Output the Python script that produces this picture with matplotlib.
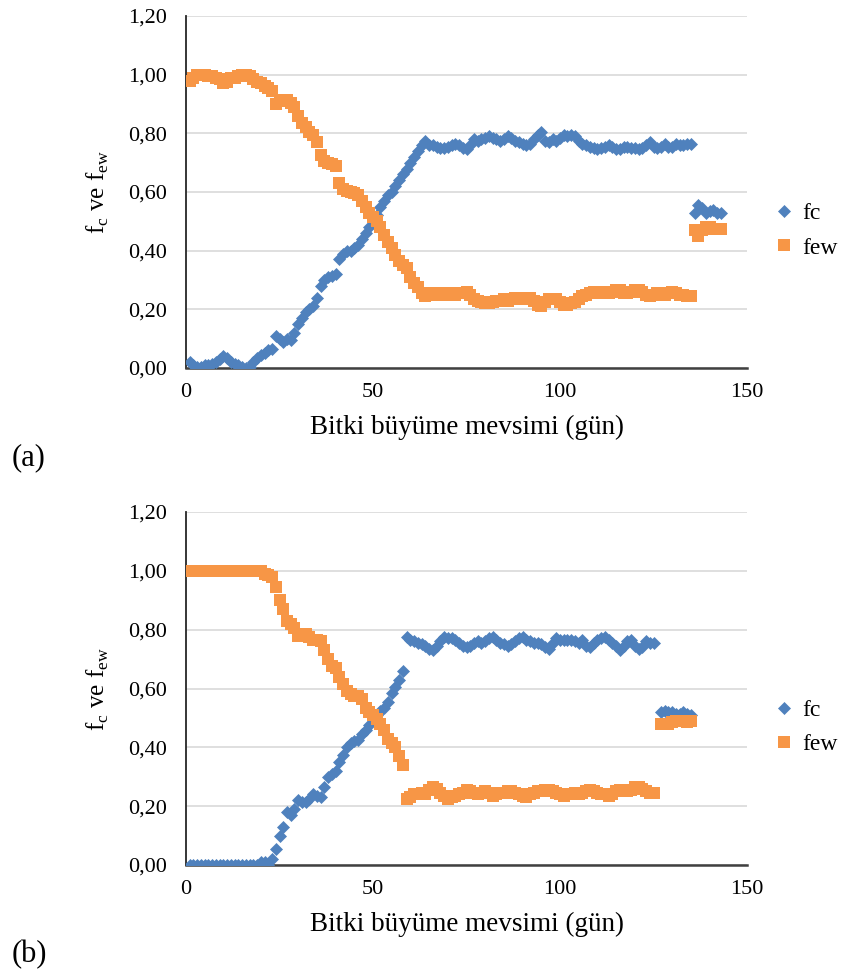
import matplotlib
matplotlib.use('Agg')
import matplotlib.pyplot as plt
from matplotlib.ticker import FuncFormatter

plt.rcParams['font.family'] = ['Liberation Serif', 'DejaVu Serif']
plt.rcParams['mathtext.fontset'] = 'custom'
plt.rcParams['mathtext.rm'] = 'Liberation Serif'

# (a) verileri
gun_a = list(range(1, 136))
fc_a = [0.02, 0.01, 0.005, 0.005, 0.01, 0.01, 0.015, 0.02, 0.03, 0.04,
        0.035, 0.02, 0.015, 0.01, 0.005, 0.0, 0.005, 0.02, 0.035, 0.045,
        0.05, 0.06, 0.065, 0.11, 0.10, 0.09, 0.10, 0.095, 0.12, 0.15,
        0.17, 0.19, 0.20, 0.21, 0.24, 0.28, 0.30, 0.31, 0.315, 0.32,
        0.37, 0.39, 0.40, 0.40, 0.41, 0.42, 0.44, 0.46, 0.48, 0.50,
        0.52, 0.55, 0.57, 0.59, 0.60, 0.62, 0.64, 0.66, 0.68, 0.70,
        0.72, 0.74, 0.76, 0.775, 0.76, 0.76, 0.755, 0.75, 0.75, 0.755,
        0.76, 0.765, 0.76, 0.75, 0.745, 0.76, 0.78, 0.775, 0.78, 0.785,
        0.79, 0.785, 0.78, 0.775, 0.78, 0.79, 0.785, 0.775, 0.77, 0.765,
        0.76, 0.765, 0.78, 0.795, 0.805, 0.775, 0.77, 0.78, 0.775, 0.785,
        0.795, 0.79, 0.795, 0.79, 0.775, 0.765, 0.76, 0.755, 0.75, 0.745,
        0.75, 0.755, 0.76, 0.755, 0.745, 0.745, 0.755, 0.755, 0.75, 0.75,
        0.745, 0.75, 0.76, 0.77, 0.755, 0.75, 0.755, 0.765, 0.755, 0.755,
        0.765, 0.76, 0.76, 0.765, 0.765]
few_a = [0.98, 0.99, 1.0, 1.0, 1.0, 0.995, 0.995, 0.99, 0.985, 0.97,
         0.975, 0.99, 0.99, 0.995, 1.0, 1.0, 0.995, 0.985, 0.975, 0.97,
         0.96, 0.955, 0.945, 0.90, 0.91, 0.915, 0.915, 0.905, 0.89, 0.86,
         0.835, 0.82, 0.805, 0.795, 0.77, 0.725, 0.705, 0.70, 0.695, 0.69,
         0.63, 0.61, 0.605, 0.60, 0.595, 0.59, 0.57, 0.55, 0.53, 0.515,
         0.50, 0.48, 0.455, 0.43, 0.41, 0.385, 0.365, 0.35, 0.34, 0.31,
         0.29, 0.275, 0.255, 0.245, 0.25, 0.255, 0.255, 0.25, 0.255, 0.255,
         0.25, 0.25, 0.255, 0.255, 0.26, 0.25, 0.235, 0.23, 0.225, 0.22,
         0.22, 0.225, 0.23, 0.23, 0.235, 0.23, 0.235, 0.24, 0.24, 0.235,
         0.24, 0.24, 0.23, 0.215, 0.21, 0.225, 0.235, 0.235, 0.235, 0.225,
         0.215, 0.215, 0.22, 0.225, 0.235, 0.245, 0.25, 0.255, 0.26, 0.255,
         0.255, 0.26, 0.255, 0.26, 0.265, 0.265, 0.255, 0.255, 0.26, 0.265,
         0.265, 0.26, 0.25, 0.245, 0.25, 0.255, 0.255, 0.25, 0.255, 0.26,
         0.255, 0.25, 0.25, 0.245, 0.245]
gun_a2 = list(range(136, 144))
fc_a2 = [0.53, 0.555, 0.545, 0.53, 0.535, 0.54, 0.53, 0.53]
few_a2 = [0.47, 0.45, 0.47, 0.48, 0.48, 0.475, 0.475, 0.475]

# (b) verileri
gun_b = list(range(1, 126))
fc_b = [0.0] * 19 + [
        0.01, 0.01, 0.0, 0.02, 0.055, 0.10, 0.13, 0.18, 0.17, 0.19,
        0.22, 0.215, 0.215, 0.225, 0.24, 0.235, 0.23, 0.265, 0.30, 0.31,
        0.32, 0.35, 0.375, 0.40, 0.415, 0.42, 0.425, 0.445, 0.46, 0.475,
        0.495, 0.51, 0.525, 0.535, 0.555, 0.585, 0.605, 0.63, 0.66,
        0.775, 0.765, 0.76, 0.755, 0.75, 0.745, 0.735, 0.73, 0.745, 0.76,
        0.775, 0.77, 0.77, 0.765, 0.755, 0.745, 0.74, 0.745, 0.755, 0.76,
        0.755, 0.76, 0.77, 0.775, 0.765, 0.755, 0.75, 0.745, 0.75, 0.76,
        0.77, 0.775, 0.765, 0.76, 0.755, 0.755, 0.75, 0.74, 0.735, 0.755,
        0.77, 0.765, 0.765, 0.765, 0.765, 0.76, 0.755, 0.765, 0.745, 0.74,
        0.755, 0.765, 0.77, 0.775, 0.765, 0.755, 0.745, 0.73, 0.745, 0.76,
        0.765, 0.745, 0.735, 0.74, 0.76, 0.755, 0.755]
few_b = [1.0] * 20 + [
         0.99, 0.985, 0.98, 0.945, 0.90, 0.87, 0.83, 0.82, 0.805, 0.78,
         0.785, 0.785, 0.775, 0.765, 0.765, 0.76, 0.73, 0.70, 0.675, 0.67,
         0.64, 0.615, 0.59, 0.58, 0.575, 0.575, 0.565, 0.535, 0.52, 0.51,
         0.495, 0.48, 0.46, 0.43, 0.415, 0.40, 0.37, 0.34,
         0.225, 0.23, 0.24, 0.24, 0.245, 0.24, 0.255, 0.265, 0.26, 0.245,
         0.235, 0.225, 0.23, 0.235, 0.24, 0.245, 0.255, 0.25, 0.245, 0.24,
         0.245, 0.25, 0.245, 0.235, 0.24, 0.245, 0.245, 0.25, 0.25, 0.245,
         0.24, 0.235, 0.23, 0.24, 0.245, 0.25, 0.25, 0.255, 0.255, 0.25,
         0.245, 0.24, 0.235, 0.24, 0.24, 0.245, 0.24, 0.245, 0.25, 0.255,
         0.25, 0.245, 0.24, 0.24, 0.235, 0.24, 0.25, 0.255, 0.255, 0.25,
         0.255, 0.265, 0.265, 0.26, 0.25, 0.245, 0.245]
gun_b2 = list(range(127, 136))
fc_b2 = [0.52, 0.525, 0.52, 0.52, 0.515, 0.515, 0.52, 0.515, 0.51]
few_b2 = [0.48, 0.48, 0.48, 0.485, 0.49, 0.49, 0.49, 0.485, 0.49]

x_ticks = [0, 50, 100, 150]
y_ticks = [0.0, 0.2, 0.4, 0.6, 0.8, 1.0, 1.2]

mavi = '#4f81bd'
turuncu = '#f79646'

fig = plt.figure(figsize=(8.65, 9.74), dpi=100)
ax_a = fig.add_axes([186 / 865, 1 - 368 / 974, 561 / 865, 352 / 974])
ax_b = fig.add_axes([186 / 865, 1 - 865 / 974, 561 / 865, 353 / 974])

panels = [
    (ax_a, [(gun_a, fc_a, few_a), (gun_a2, fc_a2, few_a2)], '(a)', 458),
    (ax_b, [(gun_b, fc_b, few_b), (gun_b2, fc_b2, few_b2)], '(b)', 955),
]

for ax, parcalar, etiket, ety in panels:
    for i, (g, fc, few) in enumerate(parcalar):
        ax.plot(g, fc, 'D', color=mavi, ms=6.2, mec=mavi, mew=0.5,
                label='fc' if i == 0 else None, zorder=3)
    for i, (g, fc, few) in enumerate(parcalar):
        ax.plot(g, few, 's', color=turuncu, ms=8.5, mec=turuncu, mew=0,
                label='few' if i == 0 else None, zorder=4)

    ax.set_xlim(0, 150)
    ax.set_ylim(0, 1.2)
    ax.set_xticks(x_ticks)
    ax.set_yticks(y_ticks)
    ax.yaxis.set_major_formatter(FuncFormatter(lambda v, p: f'{v:.2f}'.replace('.', ',')))
    ax.tick_params(length=0, labelsize=16, pad=14)
    ax.tick_params(axis='x', pad=11)
    ax.grid(axis='y', color='#d9d9d9', lw=1.2, zorder=0)
    ax.set_axisbelow(True)
    for s in ['top', 'right']:
        ax.spines[s].set_visible(False)
    ax.spines['left'].set_color('#262626')
    ax.spines['left'].set_linewidth(1.3)
    ax.spines['bottom'].set_color('#404040')
    ax.spines['bottom'].set_linewidth(1.8)

    ax.set_xlabel('Bitki büyüme mevsimi (gün)', fontsize=19.5, labelpad=9)
    ax.set_ylabel(r'f$_\mathregular{c}$ ve f$_\mathregular{ew}$', fontsize=18, labelpad=12)

    ax.legend(loc='center left', bbox_to_anchor=(1.02, 0.39), frameon=False,
              fontsize=17, handletextpad=0.15, labelspacing=0.55, handlelength=1.2,
              borderpad=0)

    fig.text(12 / 865, 1 - ety / 974, etiket, fontsize=22, va='center', ha='left')

fig.savefig('out.png', dpi=100)
